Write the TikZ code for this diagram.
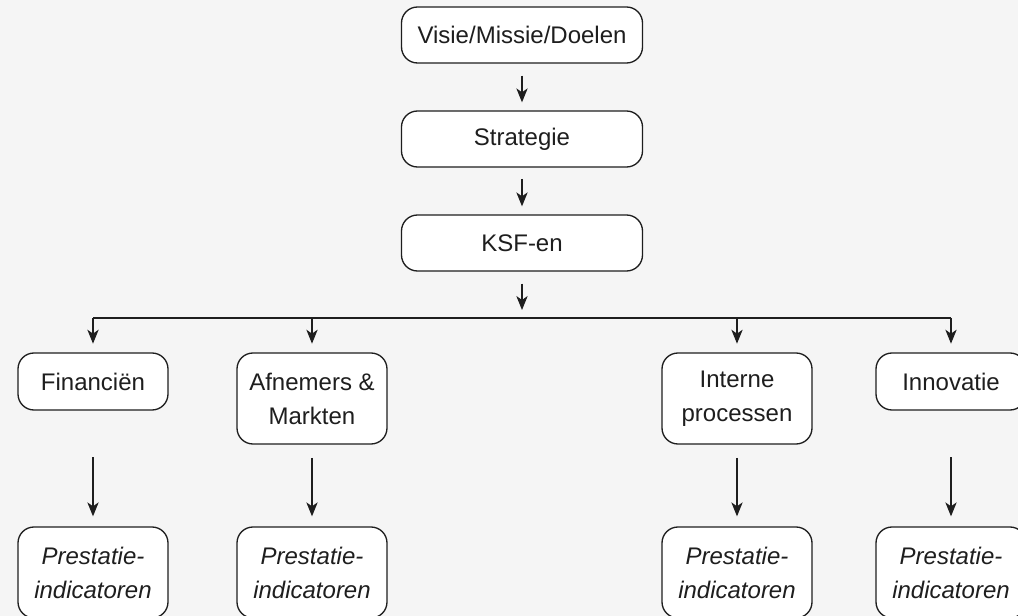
\documentclass[tikz,border=0pt]{standalone}
\usepackage{fontspec}
\setmainfont{Liberation Sans}
\usetikzlibrary{arrows.meta}
\definecolor{bgc}{HTML}{F5F5F5}
\definecolor{ink}{HTML}{1E1E1E}
\tikzset{
  box/.style={draw=ink, line width=1pt, fill=white, rounded corners=12pt,
    inner sep=0pt, align=center, font=\fontsize{18}{25.5}\selectfont, text=ink},
  wide/.style={box, minimum width=241*0.75pt, minimum height=56*0.75pt},
  one/.style={box, minimum width=150*0.75pt, minimum height=57*0.75pt},
  two/.style={box, minimum width=150*0.75pt, minimum height=91*0.75pt},
  arr/.style={draw=ink, line width=0.8pt, -{Stealth[length=10.5pt, width=8.5pt, inset=3pt]}},
  lin/.style={draw=ink, line width=0.8pt}
}
\begin{document}
\begin{tikzpicture}[x=0.75pt, y=-0.75pt]
\useasboundingbox (0,0) rectangle (1018,616);
\fill[bgc] (0,0) rectangle (1018,616);
\clip (0,0) rectangle (1018,616);

\node[wide] (visie) at (522,35) {Visie/Missie/Doelen};
\node[wide] (strat) at (522,139) {Strategie};
\node[wide] (ksf) at (522,243) {KSF-en};

\node[one] (fin) at (93,381.5) {Financiën};
\node[two] (afn) at (312,398.5) {Afnemers \&\\Markten};
\node[two] (int) at (737,398.5) {Interne\\processen};
\node[one] (inn) at (951,381.5) {Innovatie};

\node[two] (pfin) at (93,572.5) {\itshape Prestatie-\\\itshape indicatoren};
\node[two] (pafn) at (312,572.5) {\itshape Prestatie-\\\itshape indicatoren};
\node[two] (pint) at (737,572.5) {\itshape Prestatie-\\\itshape indicatoren};
\node[two] (pinn) at (951,572.5) {\itshape Prestatie-\\\itshape indicatoren};

\coordinate (ksfend) at (522,310);
\coordinate (busL) at (93,318);
\coordinate (busR) at (951,318);

\draw[arr, shorten <=9pt, shorten >=6pt] (visie) -- (strat);
\draw[arr, shorten <=8.5pt, shorten >=6pt] (strat) -- (ksf);
\draw[arr, shorten <=9pt] (ksf) -- (ksfend);

\draw[lin] (busL) -- (busR);
\draw[arr, shorten >=6.5pt] (fin |- busL) -- (fin);
\draw[arr, shorten >=6.5pt] (afn |- busL) -- (afn);
\draw[arr, shorten >=6.5pt] (int |- busL) -- (int);
\draw[arr, shorten >=6.5pt] (inn |- busL) -- (inn);

\draw[arr, shorten <=35pt, shorten >=7.5pt] (fin) -- (pfin);
\draw[arr, shorten <=10pt, shorten >=7.5pt] (afn) -- (pafn);
\draw[arr, shorten <=10pt, shorten >=7.5pt] (int) -- (pint);
\draw[arr, shorten <=35pt, shorten >=7.5pt] (inn) -- (pinn);
\end{tikzpicture}
\end{document}
